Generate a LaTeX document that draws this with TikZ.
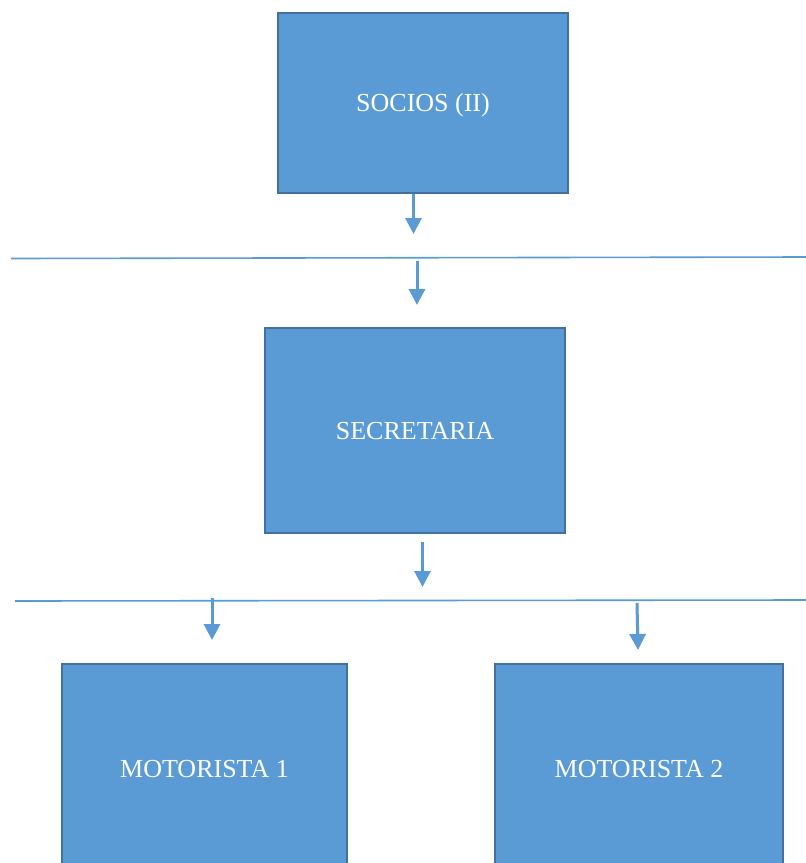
\documentclass[tikz,border=0pt]{standalone}
\usepackage{fontspec}
\setmainfont{Liberation Serif}
\usepackage{tikz}
\usetikzlibrary{arrows.meta,positioning}
\definecolor{BoxFill}{HTML}{5B9BD5}
\definecolor{BoxEdge}{HTML}{41719C}
\definecolor{Wire}{HTML}{5B9BD5}
\tikzset{
  box/.style={draw=BoxEdge, line width=2pt, fill=BoxFill, text=white,
              align=center, inner sep=0pt, text height=17pt, text depth=0pt,
              font=\fontsize{26}{30}\selectfont},
  arrow/.style={-{Triangle[length=16pt,width=16pt]}, line width=3pt, draw=Wire},
  rule/.style={line width=1.6pt, draw=Wire},
}
\begin{document}
\begin{tikzpicture}[x=1pt,y=-1pt]
  \clip (0,0) rectangle (806,863);
  \fill[white] (0,0) rectangle (806,863);
  % boxes
  \node[box, minimum width=290pt, minimum height=180pt] (socios) at (423,103) {SOCIOS (II)};
  \node[box, minimum width=300pt, minimum height=205pt] (secre) at (415,430.5) {SECRETARIA};
  \node[box, minimum width=285pt, minimum height=210pt] (moto1) at (204.5,769) {MOTORISTA 1};
  \node[box, minimum width=288pt, minimum height=210pt] (moto2) at (639,769) {MOTORISTA 2};
  % separator lines
  \coordinate (l1a) at (11,258.5);
  \coordinate (l1b) at (806,257);
  \coordinate (l2a) at (15,601);
  \coordinate (l2b) at (806,600);
  \draw[rule] (l1a)--(l1b);
  \draw[rule] (l2a)--(l2b);
  % arrows
  \coordinate (a1) at (413.5,234);
  \coordinate (a2s) at (417,261);
  \coordinate (a2) at (417,305);
  \coordinate (a3s) at (422.5,542);
  \coordinate (a3) at (422.5,587);
  \coordinate (a4s) at (212,598);
  \coordinate (a4) at (212,640);
  \coordinate (a5s) at (637,603);
  \coordinate (a5) at (638,650);
  \draw[arrow] (socios.south -| a1)--(a1);
  \draw[arrow] (a2s)--(a2);
  \draw[arrow] (a3s)--(a3);
  \draw[arrow] (a4s)--(a4);
  \draw[arrow] (a5s)--(a5);
\end{tikzpicture}
\end{document}
